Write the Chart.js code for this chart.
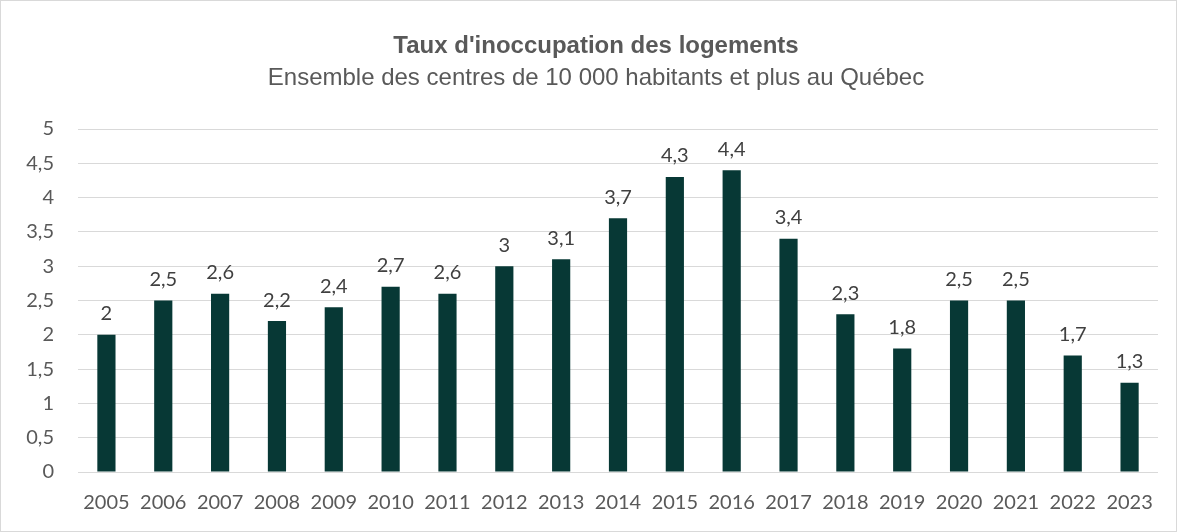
<!DOCTYPE html>
<html>
<head>
<meta charset="utf-8">
<script src="https://cdn.jsdelivr.net/npm/chart.js@4"></script>
<style>
    html, body { margin: 0; padding: 0; background: #fff; }
    .wrap { width: 1177px; height: 532px; box-sizing: border-box; border: 1px solid #d9d9d9; position: relative; }
</style>
</head>
<body>
<div class="wrap"><canvas id="tauxChart"></canvas></div>
<script>
const years = ['2005', '2006', '2007', '2008', '2009', '2010', '2011', '2012', '2013', '2014',
               '2015', '2016', '2017', '2018', '2019', '2020', '2021', '2022', '2023'];
const taux = [2, 2.5, 2.6, 2.2, 2.4, 2.7, 2.6, 3, 3.1, 3.7, 4.3, 4.4, 3.4, 2.3, 1.8, 2.5, 2.5, 1.7, 1.3];
const yTicks = [0, 0.5, 1, 1.5, 2, 2.5, 3, 3.5, 4, 4.5, 5];
const titre = "Taux d'inoccupation des logements";
const sousTitre = 'Ensemble des centres de 10 000 habitants et plus au Québec';

const frNum = v => String(v).replace('.', ',');

// Value labels above bars + heading (centred a bit right of the canvas middle, like the original)
const valueLabels = {
    id: 'valueLabels',
    afterDatasetsDraw(chart) {
        const ctx = chart.ctx;
        const meta = chart.getDatasetMeta(0);
        ctx.save();
        ctx.font = '20px Lato, "Open Sans", sans-serif';
        ctx.fillStyle = '#404040';
        ctx.textAlign = 'center';
        ctx.textBaseline = 'bottom';
        meta.data.forEach((bar, i) => {
            ctx.fillText(frNum(taux[i]), bar.x, bar.y - 11);
        });

        const cx = (chart.chartArea.left + chart.chartArea.right) / 2 - 22;
        ctx.fillStyle = '#595959';
        ctx.textBaseline = 'middle';
        ctx.font = 'bold 24px "Liberation Sans", Arial, sans-serif';
        ctx.fillText(titre, cx, 45);
        ctx.font = '24px "Liberation Sans", Arial, sans-serif';
        ctx.fillText(sousTitre, cx, 77);
        ctx.restore();
    }
};

new Chart(document.getElementById('tauxChart'), {
    type: 'bar',
    data: {
        labels: years,
        datasets: [{
            data: taux,
            backgroundColor: '#073835',
            barPercentage: 0.32,
            categoryPercentage: 1
        }]
    },
    options: {
        responsive: true,
        maintainAspectRatio: false,
        animation: false,
        layout: { padding: { left: 0, right: 18, top: 128, bottom: 0 } },
        plugins: {
            legend: { display: false },
            tooltip: { enabled: false },
            title: { display: false }
        },
        scales: {
            x: {
                grid: { display: false },
                border: { display: false },
                ticks: {
                    color: '#595959',
                    font: { family: 'Lato, "Open Sans", sans-serif', size: 20 },
                    padding: 11,
                    maxRotation: 0,
                    autoSkip: false
                },
                afterFit: s => { s.height = 59; }
            },
            y: {
                min: 0,
                max: 5,
                afterBuildTicks: s => { s.ticks = yTicks.map(v => ({ value: v })); },
                grid: { color: '#d9d9d9', lineWidth: 1, drawTicks: false },
                border: { display: false },
                ticks: {
                    color: '#595959',
                    font: { family: 'Lato, "Open Sans", sans-serif', size: 20 },
                    padding: 24,
                    callback: v => frNum(v)
                },
                afterFit: s => { s.width = 77; }
            }
        }
    },
    plugins: [valueLabels]
});
</script>
</body>
</html>
